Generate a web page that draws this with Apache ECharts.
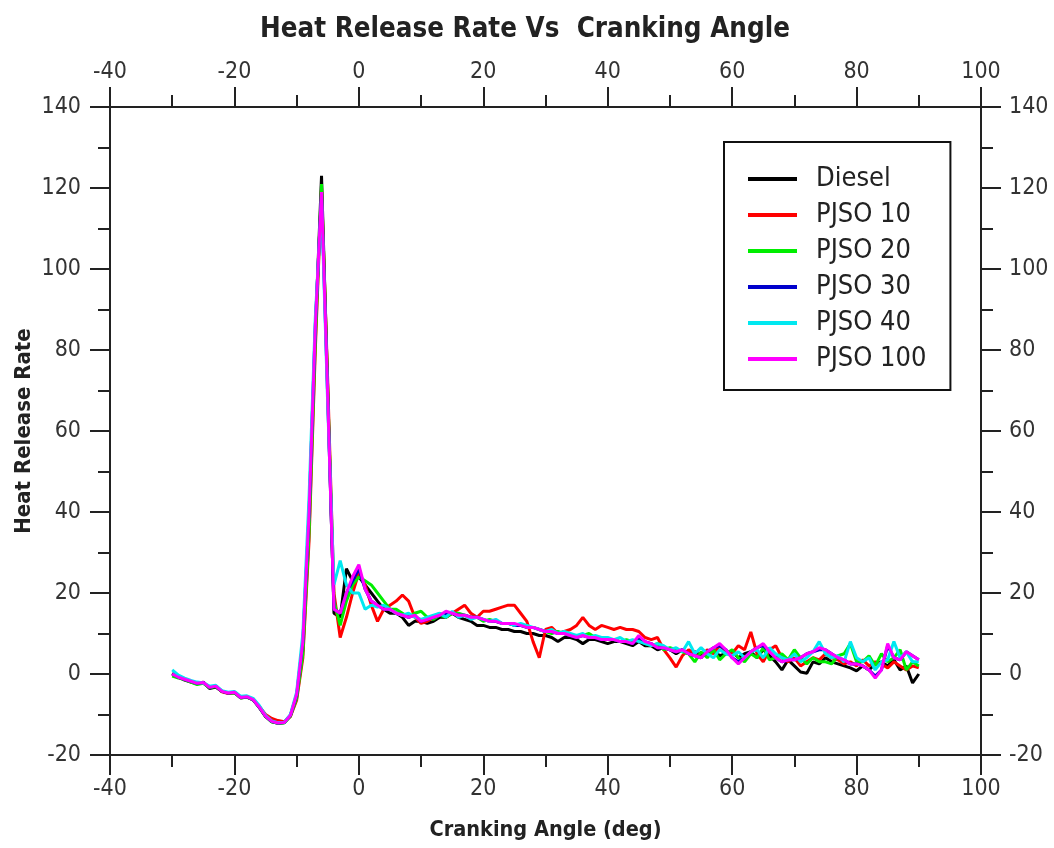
<!DOCTYPE html>
<html>
<head>
<meta charset="utf-8">
<script src="https://cdn.jsdelivr.net/npm/echarts@6/dist/echarts.min.js"></script>
<style>
html,body{margin:0;padding:0;background:#fff;}
#chart{width:1054px;height:848px;}
</style>
</head>
<body>
<div id="chart"></div>
<script>
const angles = [-30,-29,-28,-27,-26,-25,-24,-23,-22,-21,-20,-19,-18,-17,-16,-15,-14,-13,-12,-11,-10,-9,-8,-7,-6,-5,
-4,-3,-2,-1,0,1,2,3,4,5,6,7,8,9,
10,11,12,13,14,15,16,17,18,19,
20,21,22,23,24,25,26,27,28,29,
30,31,32,33,34,35,36,37,38,39,
40,41,42,43,44,45,46,47,48,49,
50,51,52,53,54,55,56,57,58,59,
60,61,62,63,64,65,66,67,68,69,
70,71,72,73,74,75,76,77,78,79,
80,81,82,83,84,85,86,87,88,89,90];

const diesel = [0.2,-0.8,-1.5,-2.0,-2.4,-2.0,-3.6,-3.2,-4.3,-4.7,-4.6,-5.9,-5.7,-6.4,-8.3,-10.5,-11.8,-12.2,-12.0,-10.3,-5.5,6,38,84,123,70,
15,14,26,23,24,22,20,18,16,15,15,14,12,13,
13,12.5,13,14,14,15,14,13.5,13,12,
12,11.5,11.5,11,11,10.5,10.5,10,10,9.5,
9.5,9,8,9,9,8.5,7.5,8.5,8.5,8,
7.5,8,8,7.5,7,8,7,7,6,6.5,
6,5,6,5,5.5,4.5,5,6,4.5,5,
5.5,4,5,5.5,4,6,4.5,3,1,3.5,
2,0.5,0.2,3,2.5,4,3,2.5,2,1.5,
0.8,2,1,2.5,3,2,3.5,1,2,-2.2,0];

const pjso10 = [0.0,-0.8,-1.3,-1.9,-2.3,-2.2,-3.3,-3.0,-4.4,-4.8,-4.5,-5.8,-5.6,-6.3,-8.0,-10.0,-11.0,-11.5,-11.8,-10.5,-6.5,4,33,80,120,72,
20,9,14,20,25,22,17,13,16,17,18,19.5,18,14,
12.5,13,14,15,14,15,16,17,15,14,
15.5,15.5,16,16.5,17,17,15,13,8,4,
11,11.5,10,10.5,11,12,14,12,11,12,
11.5,11,11.5,11,11,10.5,9,8.5,9,6,
4,1.7,4.5,6,5,4,6,5,7,5.5,
5,7,6,10.4,5,3,6,7,4,3,
4,2,3,4,3.5,5,4,3.5,2.5,3,
2,3.5,2,3,2.5,1.5,3,2,1,2,1.5];

const pjso20 = [-0.5,-1.0,-1.4,-2.0,-2.6,-2.3,-3.4,-3.1,-4.3,-4.7,-4.6,-5.9,-5.7,-6.3,-8.2,-10.4,-11.8,-12.2,-12.1,-10.4,-6.0,5,35,82,121,70,
18,12,18,22,24,23,22,20,18,16,16,15,14,15,
15.5,14,13.5,14.5,14,15,15,14.5,14,14,
13,13.5,13,12.5,12.5,12,12,11.5,11.5,11,
10.5,10,10.5,10,9.5,9.5,9.5,10,9,9,
8.5,8.5,8,8.5,8,8.5,7.5,7,7.5,6,
6.5,6,5.5,5,3,5.5,4,6,3.5,5,
6,4,3,5,4,6.5,3.5,4,5,3.5,
6,4,2.5,4,3,3,2.5,4.5,5,7.5,
3,3,4.5,2,5,3,4,6,1,3,2];

const pjso30 = [0.0,-0.8,-1.3,-1.8,-2.3,-2.1,-3.3,-3.0,-4.3,-4.7,-4.5,-5.8,-5.6,-6.3,-8.2,-10.4,-11.7,-12.1,-12.0,-10.2,-5.2,8,40,86,119,68,
16,15,20,23,26,21,18,17,16,16,15,14.5,14,14.5,
13,13.5,14,14.5,15,15,14.5,14.5,14,14,
13.5,13,13,12.5,12.5,12,12,11.5,11.5,11,
10.5,10.5,10,10,9.5,9,9.5,9,9,8.5,
8.5,8.5,8,8,7.5,9,8,7.5,6.5,6.5,
6,5.5,6,5,4.5,4,5.5,6.5,7,6,
4,3,4,5.5,6.5,7,5.5,4,3,3.5,
3.5,4,5,5.5,6,6,5,4,3.5,2.5,
2.5,2,1,-0.5,1,7,4,3.5,5.5,4.5,3.5];

const pjso40 = [1.0,-0.3,-1.0,-1.6,-2.0,-2.2,-3.0,-2.8,-4.1,-4.5,-4.3,-5.5,-5.4,-6.0,-7.8,-10.2,-11.6,-12.0,-11.9,-10.0,-4.5,10,44,88,117,66,
22,28,22,20,20,16,17,16.5,17,16,15,14.5,15,14,
13.5,14,14.5,15,14,15.5,14,14.5,13.5,14,
13.5,13,13.5,12.5,12.5,12,12.5,12,11.5,11,
10.5,11,10,10.5,10,9.5,10,9,9.5,9,
9,8.5,9,8,8.5,8,7.5,7,7.5,7,
6,6.5,5.5,8,5,6.5,5,4,6,5,
4.5,5.5,4,5.5,6,4,6.5,5,4,3.5,
5,3,4,5.5,8,5,4,4.5,3,8,
4,3,4,1,3,3.5,8,4,5.5,3,3];

const pjso100 = [0.0,-0.8,-1.3,-1.8,-2.3,-2.1,-3.3,-3.0,-4.3,-4.7,-4.5,-5.8,-5.6,-6.3,-8.2,-10.4,-11.7,-12.1,-12.0,-10.2,-5.0,8,40,86,119,68,
16,15,20,24,27,21,18,17,16,16,15,14.5,14,14.5,
13,13.5,14,14.5,15.5,15,14.5,14.5,14,14,
13.5,13,13,12.5,12.5,12.5,12,11.5,11.5,11,
10.5,10.5,10,10,9.5,9,9.5,9,9,8.5,
8.5,8.5,8,8,7.5,9.5,8,7.5,6.5,6.5,
6,5.5,6,5,4.5,4,5.5,6.5,7.5,6,
4,2.5,4,5.5,6.5,7.5,5.5,4,3,3.5,
3.5,4,5,5.5,6.5,6,5,4,3.5,2.5,
2.5,2,1,-1,1,7.5,4,3.5,5.5,4.5,3.5];

const seriesNames = ['Diesel','PJSO 10','PJSO 20','PJSO 30','PJSO 40','PJSO 100'];
const seriesValues = [diesel, pjso10, pjso20, pjso30, pjso40, pjso100];
const seriesColors = ['#000000','#ff0000','#00ee00','#0000cc','#00e8f0','#ff00ff'];

const FONT = 'DejaVu Sans Condensed, DejaVu Sans, sans-serif';

function xAx(pos){
  return {
    type:'value', position:pos, min:-40, max:100, interval:20,
    axisLine:{show:true, onZero:false, lineStyle:{color:'#222', width:2}},
    axisTick:{show:true, inside:false, length:20, lineStyle:{color:'#222', width:2}},
    minorTick:{show:true, splitNumber:2, length:12, lineStyle:{color:'#222', width:2}},
    splitLine:{show:false},
    axisLabel:{color:'#333', fontFamily:FONT, fontSize:23, margin:23},
    name: pos==='bottom' ? 'Cranking Angle (deg)' : '',
    nameLocation:'middle', nameGap:64,
    nameTextStyle:{fontFamily:FONT, fontWeight:'bold', fontSize:21.5, color:'#222'}
  };
}
function yAx(pos){
  return {
    type:'value', position:pos, min:-20, max:140, interval:20,
    axisLine:{show:true, onZero:false, lineStyle:{color:'#222', width:2}},
    axisTick:{show:true, inside:false, length:20, lineStyle:{color:'#222', width:2}},
    minorTick:{show:true, splitNumber:2, length:12, lineStyle:{color:'#222', width:2}},
    splitLine:{show:false},
    axisLabel:{color:'#333', fontFamily:FONT, fontSize:23, margin: pos==='left'?29:28},
    name: pos==='left' ? 'Heat Release Rate' : '',
    nameLocation:'middle', nameGap:75, nameRotate:90, nameMoveOverlap:false,
    nameTextStyle:{fontFamily:FONT, fontWeight:'bold', fontSize:22, color:'#222'}
  };
}

const chart = echarts.init(document.getElementById('chart'), null, {renderer:'canvas'});
chart.setOption({
  animation:false,
  backgroundColor:'#fff',
  title:{
    text:'Heat Release Rate Vs  Cranking Angle', left:520, textAlign:'center', top:11,
    textStyle:{fontFamily:FONT, fontWeight:'bold', fontSize:27.5, color:'#222'}
  },
  grid:{left:110, right:73, top:107, bottom:93},
  xAxis:[xAx('bottom'), xAx('top')],
  yAxis:[yAx('left'), yAx('right')],
  legend:{
    orient:'vertical', left:724, top:142,
    padding:[22,24,16,24],
    borderColor:'#111', borderWidth:2, backgroundColor:'#fff',
    itemWidth:49, itemHeight:4, itemGap:6, icon:'rect',
    textStyle:{fontFamily:FONT, fontSize:27, color:'#222', lineHeight:30, padding:[0,0,0,14]},
    data: seriesNames
  },
  series: seriesNames.map((n,i)=>({
    name:n, type:'line', xAxisIndex:0, yAxisIndex:0,
    data: angles.map((a,j)=>[a, seriesValues[i][j]]),
    showSymbol:false, symbol:'none',
    lineStyle:{color:seriesColors[i], width:3},
    itemStyle:{color:seriesColors[i]},
    z: 2+i
  }))
});
</script>
</body>
</html>
